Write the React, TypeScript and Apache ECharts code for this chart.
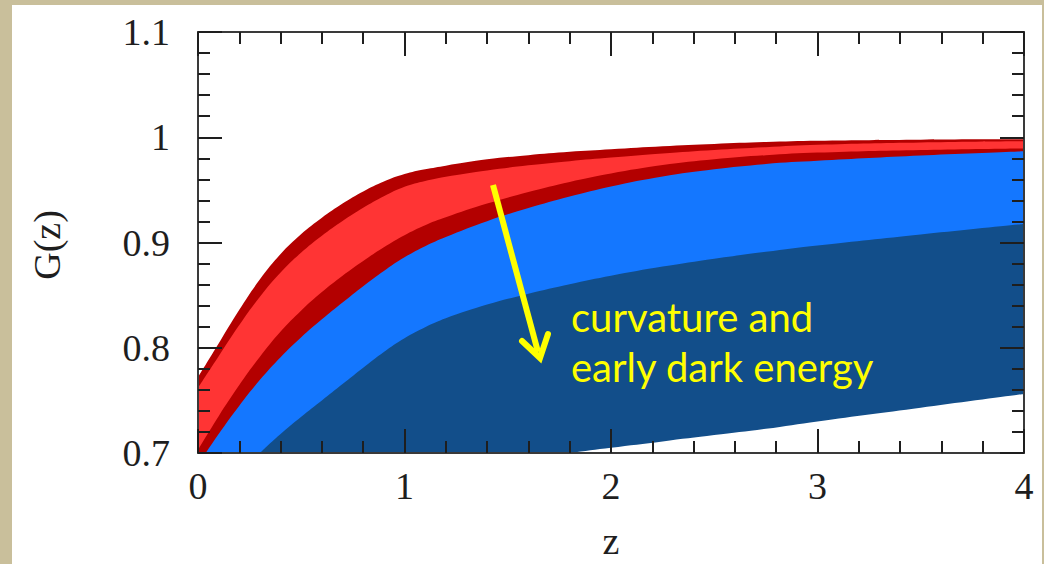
import React, { useEffect, useRef } from "react";
import * as echarts from "echarts";

// Redshift samples shared by every band boundary
const zGrid = [0, 0.1, 0.2, 0.3, 0.4, 0.5, 0.6, 0.7, 0.8, 0.9, 1.0, 1.1, 1.2, 1.4, 1.6, 1.8, 2.0, 2.25, 2.5, 2.75, 3.0, 3.5, 4.0];

// Red region: outer (dark red) and inner (light red) bounds
const redOuterTop = [0.772, 0.804, 0.836, 0.865, 0.889, 0.908, 0.9235, 0.937, 0.9485, 0.958, 0.965, 0.9695, 0.973, 0.979, 0.983, 0.9862, 0.9886, 0.9915, 0.9937, 0.9955, 0.9967, 0.9977, 0.998];
const redInnerTop = [0.762, 0.792, 0.8215, 0.8485, 0.8715, 0.8905, 0.9065, 0.9205, 0.933, 0.944, 0.953, 0.9585, 0.9625, 0.9685, 0.9733, 0.9773, 0.9807, 0.9845, 0.9878, 0.9905, 0.9928, 0.995, 0.9962];
const redInnerBottom = [0.703, 0.735, 0.7645, 0.7915, 0.8155, 0.8355, 0.853, 0.8685, 0.8825, 0.8955, 0.907, 0.9165, 0.924, 0.937, 0.948, 0.9576, 0.9656, 0.9736, 0.9791, 0.9829, 0.9854, 0.9879, 0.9894];
const redOuterBottom = [0.689, 0.718, 0.745, 0.7695, 0.791, 0.81, 0.827, 0.843, 0.8585, 0.873, 0.886, 0.8965, 0.9053, 0.9203, 0.9327, 0.9437, 0.9533, 0.9628, 0.9696, 0.9746, 0.9776, 0.9826, 0.9866];

// Blue region: light blue runs down to the dark blue band
const darkBlueTop = [0.634, 0.658, 0.68, 0.7, 0.718, 0.7345, 0.75, 0.7655, 0.781, 0.796, 0.809, 0.8195, 0.828, 0.841, 0.8514, 0.8604, 0.8684, 0.8771, 0.8846, 0.8911, 0.8971, 0.9076, 0.9176];
const darkBlueBottom = [0.68, 0.68, 0.68, 0.68, 0.68, 0.68, 0.68, 0.68, 0.68, 0.68, 0.68, 0.68, 0.682, 0.688, 0.694, 0.7, 0.705, 0.711, 0.717, 0.723, 0.73, 0.743, 0.756];

const xTicks = ["0", "1", "2", "3", "4"];
const yTicks = ["0.7", "0.8", "0.9", "1", "1.1"];

const COLORS = {
  darkRed: "#B30000",
  lightRed: "#FF3434",
  lightBlue: "#1477FF",
  darkBlue: "#124E8A",
  white: "#FFFFFF",
  frame: "#C9BF9B",
  ink: "#1E1E1E",
  note: "#FFFF00",
};

const SERIF = '"Liberation Serif", "Times New Roman", serif';
const SANS = 'Lato, "Open Sans", sans-serif';

function pairs(values: number[]) {
  return zGrid.map((z, i) => [z, values[i]]);
}

// Each layer fills from its curve down to the bottom of the plot; later layers paint over earlier ones
function layer(name: string, values: number[], color: string) {
  return {
    name,
    type: "line",
    data: pairs(values),
    showSymbol: false,
    smooth: 0.4,
    silent: true,
    clip: true,
    lineStyle: { width: 0, color },
    areaStyle: { color, opacity: 1, origin: "start" },
  };
}

function axisCommon(showLabels: boolean, labels: string[], min: number, interval: number) {
  return {
    type: "value",
    min,
    interval,
    z: 10,
    axisLine: { show: true, onZero: false, lineStyle: { color: "#3a3a3a", width: 2 } },
    axisTick: { show: true, inside: true, length: 24, lineStyle: { color: COLORS.ink, width: 2 } },
    minorTick: { show: true, splitNumber: 5, length: 12, lineStyle: { color: COLORS.ink, width: 2 } },
    splitLine: { show: false },
    minorSplitLine: { show: false },
    axisLabel: {
      show: showLabels,
      fontFamily: SERIF,
      fontSize: 38,
      color: COLORS.ink,
      formatter: (v: number) => {
        const idx = Math.round((v - min) / interval);
        return labels[idx] ?? "";
      },
    },
  };
}

export default function App() {
  const ref = useRef<HTMLDivElement>(null);

  useEffect(() => {
    document.body.style.margin = "0";
    if (!ref.current) return;
    const chart = echarts.init(ref.current, undefined, { renderer: "svg" });

    const xBottom = { ...axisCommon(true, xTicks, 0, 1), position: "bottom", max: 4 };
    (xBottom.axisLabel as any).margin = 14;
    const xTop = { ...axisCommon(false, xTicks, 0, 1), position: "top", max: 4 };
    const yLeft = { ...axisCommon(true, yTicks, 0.7, 0.1), position: "left", max: 1.1 };
    (yLeft.axisLabel as any).margin = 28;
    const yRight = { ...axisCommon(false, yTicks, 0.7, 0.1), position: "right", max: 1.1 };

    chart.setOption({
      animation: false,
      backgroundColor: COLORS.white,
      grid: { left: 186, right: 18, top: 27, bottom: 111 },
      xAxis: [xBottom, xTop],
      yAxis: [yLeft, yRight],
      series: [
        layer("outer top", redOuterTop, COLORS.darkRed),
        layer("inner top", redInnerTop, COLORS.lightRed),
        layer("inner bottom", redInnerBottom, COLORS.darkRed),
        layer("outer bottom", redOuterBottom, COLORS.lightBlue),
        layer("dark band top", darkBlueTop, COLORS.darkBlue),
        layer("dark band bottom", darkBlueBottom, COLORS.white),
      ],
      graphic: [
        {
          type: "text",
          x: 35,
          y: 240,
          rotation: Math.PI / 2,
          style: { text: "G(z)", font: `38px ${SERIF}`, fill: COLORS.ink, align: "center", verticalAlign: "middle" },
        },
        {
          type: "text",
          x: 599,
          y: 536,
          style: { text: "z", font: `38px ${SERIF}`, fill: COLORS.ink, align: "center", verticalAlign: "middle" },
        },
        {
          type: "line",
          z: 20,
          shape: { x1: 481, y1: 180, x2: 526, y2: 347 },
          style: { stroke: COLORS.note, lineWidth: 6 },
        },
        {
          type: "polyline",
          z: 20,
          shape: { points: [[510, 336], [528, 353], [536, 329]] },
          style: { stroke: COLORS.note, lineWidth: 6, fill: "none", lineJoin: "miter", lineCap: "round" },
        },
        {
          type: "text",
          z: 20,
          x: 559,
          y: 312,
          style: { text: "curvature and", font: `40px ${SANS}`, fill: COLORS.note, align: "left", verticalAlign: "middle" },
        },
        {
          type: "text",
          z: 20,
          x: 559,
          y: 362,
          style: { text: "early dark energy", font: `40px ${SANS}`, fill: COLORS.note, align: "left", verticalAlign: "middle" },
        },
      ],
    });

    return () => chart.dispose();
  }, []);

  return (
    <div style={{ position: "fixed", left: 0, top: 0, width: 1044, height: 564, background: COLORS.frame, overflow: "hidden" }}>
      <div ref={ref} style={{ position: "absolute", left: 12, top: 5, width: 1030, height: 559 }} />
    </div>
  );
}
